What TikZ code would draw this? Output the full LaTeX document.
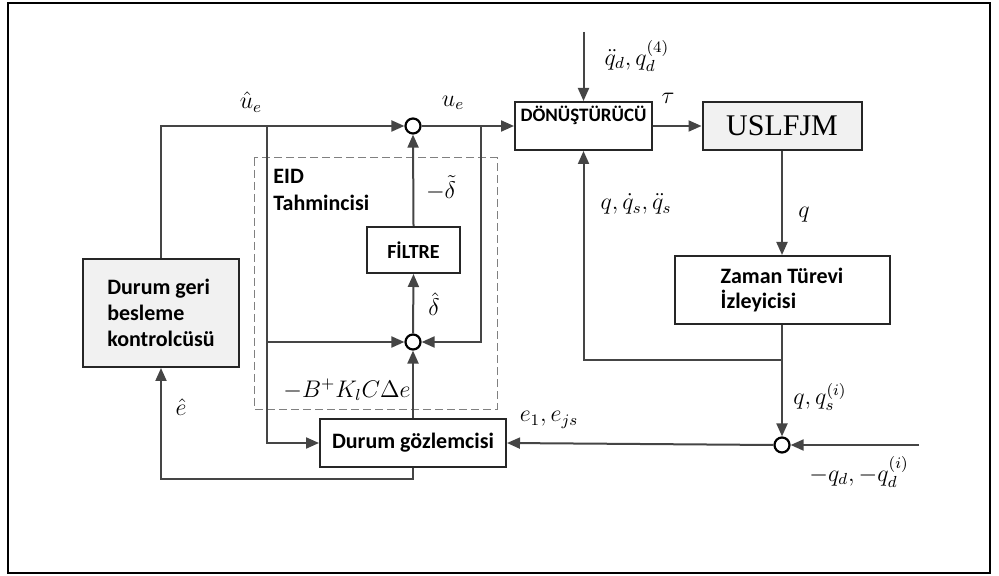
\documentclass[tikz,border=0pt]{standalone}
\usepackage{fontspec}
\setmainfont{Carlito}
\newfontfamily\plantfont{Liberation Serif}
\usetikzlibrary{arrows.meta,calc}
\definecolor{linegray}{HTML}{454545}
\definecolor{boxgray}{HTML}{F1F1F1}
\tikzset{
  blk/.style={draw=black!85,line width=1pt,font=\bfseries\fontsize{11}{13}\selectfont,inner sep=0pt},
  sumc/.style={circle,draw=black,line width=1.1pt,fill=white,minimum size=7.5pt,inner sep=0pt},
  sig/.style={-{Triangle[length=6.5pt,width=5.5pt]},line width=1pt,draw=linegray},
  lbl/.style={font=\fontsize{12}{14}\selectfont,inner sep=0pt}
}
\begin{document}
\begin{tikzpicture}[x=0.5pt,y=-0.5pt]
\useasboundingbox (0,0) rectangle (999,576);
\draw[line width=1.2pt] (8,3) rectangle (990,573);
\draw[gray,dash pattern=on 4pt off 2pt,line width=0.5pt] (254,158) rectangle (497,409);
\node[blk,fill=boxgray,minimum width=78pt,minimum height=54pt,align=left] (ctrl) at (161,313) {Durum geri\\besleme\\kontrolcüsü};
\node[blk,minimum width=93pt,minimum height=24pt] (obs) at (413,443) {Durum gözlemcisi};
\node[blk,minimum width=46.5pt,minimum height=23pt,font=\bfseries\fontsize{10}{12}\selectfont] (filt) at (413.5,250) {FİLTRE};
\node[blk,minimum width=68.5pt,minimum height=24pt,font=\bfseries\fontsize{9.5}{11}\selectfont,text height=6pt,text depth=10pt] (conv) at (583.5,126) {DÖNÜŞTÜRÜCÜ};
\node[blk,fill=boxgray,minimum width=79.5pt,minimum height=24pt,font=\plantfont\fontsize{15}{17}\selectfont] (plant) at (782,126) {USLFJM};
\node[blk,minimum width=107.5pt,minimum height=34pt,align=left,font=\bfseries\fontsize{11}{12.5}\selectfont] (zt) at (782,290) {Zaman Türevi\\İzleyicisi};
\node[font=\bfseries\fontsize{11}{13.5}\selectfont,align=left,anchor=north west,inner sep=0pt] (eid) at (273,169) {EID\\Tahmincisi};
\node[sumc] (s1) at (413,126) {};
\node[sumc] (s2) at (413,342) {};
\node[sumc] (s3) at (782,445) {};
\coordinate (b1) at (267,126); \coordinate (b2) at (481,126); \coordinate (b3) at (782,360);
\coordinate (c1) at (161,479); \coordinate (qin) at (583.5,32); \coordinate (qdin) at (919,445);
\draw[sig] (ctrl.north)|-(s1.west); \draw[sig] (b1)|-(obs.west); \draw[sig] (b1|-s2)--(s2.west);
\draw[sig] (s1.east)--(conv.west); \draw[sig] (b2)|-(s2.east);
\draw[sig] (filt.north)--(s1.south); \draw[sig] (s2.north)--(filt.south); \draw[sig] (obs.north)--(s2.south);
\draw[sig] (obs.south)|-(c1)--(ctrl.south);
\draw[sig] (qin)--(conv.north); \draw[sig] (conv.east)--(plant.west);
\draw[sig] (plant.south)--(zt.north); \draw[sig] (zt.south)--(s3.north);
\draw[sig] (b3)-|(conv.south); \draw[sig] (qdin)--(s3.east); \draw[sig] (s3.west)--(obs.east);
\node[lbl] (uhat) at (251,102) {$\hat{u}_e$};
\node[lbl] (ue) at (453,103) {$u_e$};
\node[lbl] (dtil) at (441,188) {$-\tilde{\delta}$};
\node[lbl] (dhat) at (434,304) {$\hat{\delta}$};
\node[lbl] (bk) at (347,390) {$-B^{+}K_{l}C\Delta e$};
\node[lbl] (ehat) at (181,407) {$\hat{e}$};
\node[lbl] (qdd) at (637,56) {$\ddot{q}_d,q_d^{(4)}$};
\node[lbl] (tau) at (668,98) {$\tau$};
\node[lbl] (qfb) at (636,204) {$q,\dot{q}_s,\ddot{q}_s$};
\node[lbl] (qout) at (804,215) {$q$};
\node[lbl] (qqs) at (820,397) {$q,q_s^{(i)}$};
\node[lbl] (qref) at (859,472) {$-q_d,-q_d^{(i)}$};
\node[lbl] (err) at (549,420) {$e_1,e_{js}$};
\end{tikzpicture}
\end{document}
